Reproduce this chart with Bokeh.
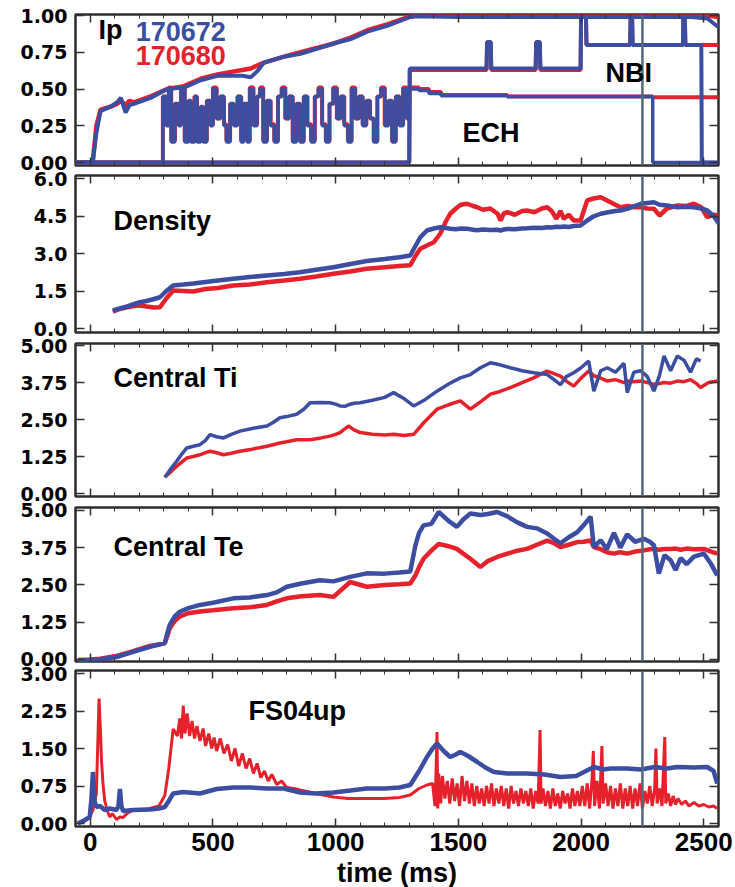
from bokeh.plotting import figure
from bokeh.layouts import column
from bokeh.models import (Range1d, LinearAxis, SingleIntervalTicker, FixedTicker,
                          Span, Label, PrintfTickFormatter)
from bokeh.embed import file_html
from bokeh.resources import INLINE

RED = "#e5222b"
BLUE = "#3b4ea1"

# ---------------- Panel 1: Ip, NBI, ECH ----------------
ip_t = [-60, 10, 25, 42, 83, 110, 125, 144, 160, 178, 246, 314, 382, 450, 518, 586, 620, 654,
        680, 708, 790, 857, 993, 1061, 1129, 1210, 1304, 1332, 1500, 1700, 1900, 2100, 2300,
        2450, 2515, 2560]
ip_blue = [0, 0, 0.20, 0.35, 0.38, 0.41, 0.44, 0.34, 0.39, 0.40, 0.44, 0.50, 0.51, 0.56, 0.59,
           0.59, 0.59, 0.58, 0.62, 0.68, 0.72, 0.74, 0.81, 0.84, 0.89, 0.93, 0.99, 0.995, 0.99,
           0.99, 0.99, 0.99, 0.99, 0.99, 0.98, 0.92]
ip_red = [0, 0, 0.25, 0.36, 0.38, 0.40, 0.42, 0.39, 0.42, 0.41, 0.45, 0.50, 0.52, 0.57, 0.60,
          0.62, 0.63, 0.64, 0.66, 0.68, 0.72, 0.75, 0.81, 0.85, 0.90, 0.94, 0.995, 1.0, 1.0,
          1.0, 1.0, 1.0, 1.0, 1.0, 1.0, 0.99]

nbi_t = [-60, 1300, 1302, 1615, 1617, 1632, 1634, 1815, 1817, 1832, 1834, 1998, 2000, 2020,
         2022, 2200, 2202, 2208, 2210, 2415, 2417, 2423, 2425, 2490, 2492, 2560]
nbi_blue = [0, 0, 0.64, 0.64, 0.82, 0.82, 0.64, 0.64, 0.82, 0.82, 0.64, 0.64, 0.99, 0.99, 0.80,
            0.80, 0.99, 0.99, 0.80, 0.80, 0.99, 0.99, 0.80, 0.80, 0.0, 0.0]
nbi_red = [0, 0, 0.63, 0.63, 0.82, 0.82, 0.63, 0.63, 0.82, 0.82, 0.63, 0.63, 0.99, 0.99, 0.80,
           0.80, 0.99, 0.99, 0.80, 0.80, 0.99, 0.99, 0.80, 0.80, 0.80, 0.80]

ech_t = [-60, 296, 310, 320, 330, 345, 360, 370, 385, 400, 410, 425, 435, 450, 460, 475, 490,
         500, 515, 530, 545, 555, 570, 585, 600, 615, 625, 640, 650, 665, 680, 692, 705, 720,
         735, 750, 765, 780, 795, 810, 825, 840, 855, 870, 885, 900, 915, 930, 945, 960, 975,
         990, 1005, 1020, 1035, 1050, 1065, 1080, 1095, 1110, 1125, 1140, 1155, 1170, 1185,
         1200, 1215, 1230, 1245, 1260, 1275, 1290, 1300, 1340, 1380, 1430, 1700, 2000, 2292,
         2560]
ech_blue = [0, 0.45, 0.25, 0.50, 0.14, 0.40, 0.25, 0.50, 0.14, 0.42, 0.14, 0.45, 0.14, 0.38,
            0.14, 0.42, 0.25, 0.50, 0.30, 0.45, 0.25, 0.14, 0.40, 0.25, 0.45, 0.14, 0.40, 0.14,
            0.50, 0.25, 0.45, 0.50, 0.14, 0.42, 0.25, 0.14, 0.45, 0.50, 0.30, 0.45, 0.14, 0.40,
            0.14, 0.45, 0.25, 0.14, 0.45, 0.50, 0.25, 0.14, 0.40, 0.50, 0.30, 0.45, 0.25, 0.14,
            0.50, 0.30, 0.45, 0.25, 0.42, 0.30, 0.14, 0.45, 0.50, 0.25, 0.42, 0.14, 0.45, 0.25,
            0.50, 0.30, 0.50, 0.49, 0.47, 0.455, 0.45, 0.45, 0.0, 0.0]
ech_red = [0, 0.45, 0.26, 0.51, 0.15, 0.40, 0.26, 0.51, 0.15, 0.42, 0.15, 0.45, 0.15, 0.38,
           0.15, 0.42, 0.26, 0.51, 0.30, 0.45, 0.26, 0.15, 0.40, 0.26, 0.45, 0.15, 0.40, 0.15,
           0.51, 0.26, 0.45, 0.51, 0.15, 0.42, 0.26, 0.15, 0.45, 0.51, 0.30, 0.45, 0.15, 0.40,
           0.15, 0.45, 0.26, 0.15, 0.45, 0.51, 0.26, 0.15, 0.40, 0.51, 0.30, 0.45, 0.26, 0.15,
           0.51, 0.30, 0.45, 0.26, 0.42, 0.30, 0.15, 0.45, 0.51, 0.26, 0.42, 0.15, 0.45, 0.26,
           0.51, 0.30, 0.51, 0.50, 0.48, 0.46, 0.45, 0.45, 0.445, 0.445]

# ---------------- Panel 2: Density ----------------
dens_t = [92, 120, 150, 180, 202, 230, 260, 284, 310, 338, 380, 420, 470, 520, 583, 650, 720,
          790, 855, 920, 991, 1060, 1127, 1200, 1260, 1304, 1325, 1345, 1372, 1400, 1426, 1450,
          1467, 1490, 1510, 1536, 1560, 1577, 1600, 1630, 1660, 1672, 1685, 1700, 1730, 1760,
          1780, 1810, 1840, 1862, 1880, 1900, 1916, 1930, 1950, 1970, 1998, 2025, 2050, 2080,
          2110, 2140, 2161, 2190, 2220, 2243, 2270, 2297, 2320, 2350, 2392, 2430, 2460, 2490,
          2514, 2540, 2562]
dens_blue = [0.72, 0.80, 0.88, 0.98, 1.05, 1.10, 1.18, 1.25, 1.50, 1.72, 1.76, 1.80, 1.86, 1.92,
             1.99, 2.06, 2.12, 2.18, 2.25, 2.35, 2.45, 2.58, 2.70, 2.78, 2.85, 2.92, 3.30, 3.65,
             3.92, 4.00, 4.05, 4.02, 3.99, 3.97, 4.00, 3.99, 3.95, 3.93, 3.96, 3.94, 3.95, 3.92,
             3.96, 3.98, 3.97, 4.00, 4.01, 4.03, 4.02, 4.05, 4.04, 4.07, 4.06, 4.08, 4.06, 4.10,
             4.12, 4.32, 4.48, 4.59, 4.65, 4.70, 4.72, 4.80, 4.90, 4.99, 5.02, 5.05, 4.95, 4.92,
             4.85, 4.87, 4.85, 4.80, 4.72, 4.50, 4.19]
dens_red = [0.67, 0.78, 0.85, 0.90, 0.92, 0.88, 0.84, 0.85, 1.20, 1.52, 1.50, 1.48, 1.58, 1.62,
            1.72, 1.76, 1.85, 1.92, 1.99, 2.08, 2.19, 2.28, 2.39, 2.45, 2.50, 2.53, 2.90, 3.19,
            3.32, 3.45, 3.79, 4.30, 4.59, 4.80, 4.95, 4.99, 4.90, 4.85, 4.75, 4.80, 4.59, 4.32,
            4.60, 4.65, 4.55, 4.70, 4.72, 4.65, 4.80, 4.85, 4.70, 4.39, 4.70, 4.39, 4.55, 4.32,
            4.32, 5.12, 5.20, 5.25, 5.10, 4.95, 4.85, 4.90, 4.85, 4.85, 4.80, 4.79, 4.52, 4.80,
            4.92, 4.90, 4.99, 4.85, 4.45, 4.55, 4.52]

# ---------------- Panel 3: Central Ti ----------------
ti_t = [304, 330, 352, 375, 393, 420, 447, 470, 488, 515, 543, 575, 610, 660, 720, 745, 773,
        800, 841, 870, 896, 940, 977, 1000, 1018, 1040, 1052, 1075, 1100, 1150, 1200, 1236,
        1280, 1318, 1360, 1413, 1460, 1508, 1549, 1590, 1631, 1670, 1712, 1760, 1807, 1840,
        1862, 1890, 1916, 1940, 1970, 2000, 2031, 2052, 2080, 2107, 2140, 2175, 2188, 2215,
        2243, 2270, 2297, 2320, 2338, 2365, 2392, 2420, 2446, 2470, 2487, 2520, 2555]
ti_blue = [0.55, 0.85, 1.09, 1.35, 1.54, 1.60, 1.65, 1.80, 1.99, 1.92, 1.88, 2.00, 2.11, 2.20,
           2.28, 2.40, 2.56, 2.60, 2.68, 2.85, 3.07, 3.08, 3.07, 3.02, 2.96, 2.95, 3.00, 3.05,
           3.07, 3.15, 3.25, 3.41, 3.20, 2.96, 3.15, 3.46, 3.70, 3.91, 4.02, 4.25, 4.42, 4.35,
           4.25, 4.15, 4.08, 4.05, 4.02, 3.85, 3.68, 3.95, 4.08, 4.25, 4.48, 3.46, 4.15, 4.25,
           4.10, 4.40, 3.41, 4.10, 4.15, 3.95, 3.46, 4.00, 4.65, 4.15, 4.65, 4.50, 4.10, 4.55,
           4.48]
ti_red = [0.55, 0.75, 0.92, 1.08, 1.20, 1.25, 1.31, 1.38, 1.43, 1.38, 1.31, 1.36, 1.43, 1.50,
          1.60, 1.65, 1.71, 1.75, 1.82, 1.82, 1.82, 1.88, 1.94, 2.00, 2.06, 2.20, 2.28, 2.15,
          2.06, 2.00, 1.98, 2.00, 1.96, 2.00, 2.40, 2.85, 3.00, 3.13, 2.85, 3.10, 3.36, 3.45,
          3.58, 3.75, 3.91, 4.05, 4.14, 4.05, 3.97, 3.80, 3.63, 3.90, 4.14, 3.98, 3.90, 3.80,
          3.85, 3.75, 3.80, 3.78, 3.80, 3.75, 3.69, 3.72, 3.75, 3.73, 3.80, 3.78, 3.85, 3.72,
          3.58, 3.75, 3.80]

# ---------------- Panel 4: Central Te ----------------
te_t = [-50, 0, 40, 107, 175, 243, 280, 304, 315, 324, 345, 365, 400, 447, 500, 583, 650, 720,
        760, 801, 860, 936, 991, 1059, 1127, 1200, 1260, 1304, 1325, 1340, 1358, 1390, 1420,
        1460, 1494, 1520, 1549, 1590, 1620, 1658, 1700, 1740, 1780, 1820, 1862, 1890, 1916,
        1950, 1984, 2010, 2039, 2052, 2080, 2105, 2134, 2160, 2188, 2220, 2256, 2280, 2297,
        2317, 2340, 2365, 2385, 2406, 2430, 2460, 2501, 2530, 2555]
te_blue = [-0.05, -0.02, 0.0, 0.08, 0.25, 0.42, 0.50, 0.55, 0.90, 1.16, 1.45, 1.60, 1.72, 1.83,
           1.90, 2.05, 2.08, 2.16, 2.25, 2.44, 2.55, 2.66, 2.62, 2.77, 2.89, 2.88, 2.92, 2.95,
           3.83, 4.25, 4.50, 4.55, 4.95, 4.65, 4.45, 4.70, 4.90, 4.85, 4.88, 4.95, 4.80, 4.60,
           4.45, 4.40, 4.23, 4.05, 3.90, 4.10, 4.27, 4.50, 4.79, 3.77, 4.00, 3.70, 4.25, 3.75,
           4.20, 3.95, 4.05, 3.95, 3.83, 2.88, 3.50, 3.33, 3.00, 3.40, 3.20, 3.45, 3.55, 3.20,
           2.82]
te_red = [-0.02, 0.0, 0.02, 0.12, 0.28, 0.45, 0.50, 0.55, 0.80, 1.05, 1.30, 1.44, 1.55, 1.61,
          1.65, 1.72, 1.75, 1.83, 1.95, 2.05, 2.12, 2.16, 2.10, 2.60, 2.44, 2.50, 2.52, 2.55,
          2.82, 3.10, 3.38, 3.65, 3.88, 3.80, 3.71, 3.55, 3.38, 3.10, 3.30, 3.44, 3.55, 3.65,
          3.71, 3.85, 3.99, 3.90, 3.77, 3.85, 3.94, 3.95, 3.99, 3.77, 3.70, 3.60, 3.55, 3.60,
          3.55, 3.62, 3.66, 3.70, 3.71, 3.68, 3.71, 3.71, 3.72, 3.68, 3.72, 3.70, 3.71, 3.62,
          3.55]

# ---------------- Panel 5: FS04up ----------------
fs_blue_t = [-50, -22, -2, 5, 11, 18, 25, 40, 59, 80, 107, 115, 121, 127, 134, 175, 243, 280,
             304, 320, 338, 379, 447, 515, 583, 651, 720, 788, 855, 920, 991, 1060, 1127, 1200,
             1260, 1304, 1340, 1372, 1395, 1413, 1440, 1467, 1490, 1508, 1540, 1577, 1610,
             1645, 1700, 1780, 1850, 1916, 1980, 2052, 2090, 2120, 2188, 2243, 2300, 2350,
             2392, 2460, 2514, 2540, 2555]
fs_blue = [0.0, 0.07, 0.13, 0.50, 1.03, 0.45, 0.33, 0.35, 0.27, 0.30, 0.27, 0.35, 0.69, 0.35,
           0.25, 0.27, 0.28, 0.30, 0.33, 0.45, 0.60, 0.63, 0.60, 0.69, 0.72, 0.72, 0.70, 0.70,
           0.62, 0.60, 0.62, 0.66, 0.70, 0.70, 0.72, 0.77, 1.05, 1.33, 1.50, 1.60, 1.45, 1.33,
           1.38, 1.43, 1.35, 1.23, 1.12, 1.03, 1.00, 1.00, 0.98, 0.93, 0.95, 1.13, 1.08, 1.10,
           1.10, 1.08, 1.13, 1.10, 1.13, 1.12, 1.13, 1.05, 0.80]
fs_red_t = [-50, -22, -2, 11, 25, 32, 36, 42, 46, 52, 59, 70, 80, 90, 107, 121, 134, 150, 175,
            210, 243, 280, 304, 320, 338, 355, 365, 372, 379, 386, 395, 405, 415, 425, 435, 447,
            460, 470, 483, 495, 505, 515, 530, 545, 560, 575, 590, 605, 620, 635, 650, 665,
            680, 695, 710, 725, 740, 760, 780, 800, 830, 855, 900, 950, 991, 1050, 1127, 1200,
            1260, 1304, 1340, 1372, 1395, 1405, 1410, 1413, 1416, 1420, 1428, 1435, 1445, 1455,
            1465, 1475, 1485, 1495, 1505, 1515, 1525, 1535, 1545, 1555, 1565, 1575, 1585, 1595,
            1605, 1615, 1625, 1635, 1645, 1655, 1665, 1675, 1685, 1695, 1705, 1715, 1725, 1735,
            1745, 1755, 1765, 1775, 1785, 1795, 1805, 1815, 1825, 1833, 1837, 1845, 1855, 1865,
            1875, 1885, 1895, 1905, 1915, 1925, 1935, 1945, 1955, 1965, 1975, 1985, 1995, 2005,
            2015, 2025, 2035, 2045, 2050, 2055, 2065, 2075, 2085, 2090, 2100, 2110, 2120, 2130,
            2140, 2150, 2160, 2170, 2180, 2190, 2200, 2210, 2220, 2230, 2240, 2250, 2260, 2270,
            2280, 2290, 2300, 2305, 2310, 2320, 2330, 2341, 2345, 2355, 2365, 2375, 2385, 2395,
            2410, 2425, 2440, 2460, 2480, 2500, 2520, 2540, 2555]
fs_red = [0.0, 0.05, 0.13, 0.27, 0.60, 1.80, 2.50, 1.80, 1.26, 0.80, 0.46, 0.25, 0.13, 0.20,
          0.08, 0.13, 0.12, 0.20, 0.27, 0.28, 0.30, 0.35, 0.56, 1.10, 1.89, 1.75, 2.10, 1.70,
          2.36, 1.80, 2.20, 1.75, 2.05, 1.70, 1.95, 1.65, 1.90, 1.55, 1.80, 1.50, 1.72, 1.45,
          1.70, 1.40, 1.58, 1.25, 1.50, 1.15, 1.40, 1.10, 1.30, 1.00, 1.20, 0.92, 1.05, 0.85,
          0.98, 0.78, 0.85, 0.72, 0.70, 0.67, 0.62, 0.57, 0.53, 0.50, 0.50, 0.50, 0.52, 0.57,
          0.70, 0.77, 0.80, 0.35, 1.20, 1.83, 0.30, 1.00, 0.40, 0.95, 0.50, 0.85, 0.40, 0.90,
          0.45, 0.80, 0.35, 0.95, 0.45, 0.85, 0.40, 0.80, 0.35, 0.75, 0.40, 0.70, 0.35, 0.75,
          0.40, 0.80, 0.35, 0.70, 0.40, 0.75, 0.35, 0.70, 0.30, 0.75, 0.40, 0.65, 0.35, 0.70,
          0.40, 0.65, 0.35, 0.70, 0.30, 0.65, 0.40, 1.87, 0.40, 0.70, 0.35, 0.65, 0.30, 0.70,
          0.35, 0.60, 0.30, 0.65, 0.40, 0.60, 0.30, 0.70, 0.35, 0.65, 0.35, 0.75, 0.35, 0.80,
          0.30, 0.90, 1.45, 0.35, 0.85, 0.30, 1.55, 0.40, 0.80, 0.35, 0.75, 0.30, 0.70, 0.35,
          0.80, 0.30, 0.70, 0.35, 0.75, 0.30, 0.70, 0.35, 0.80, 0.30, 0.65, 0.40, 0.75, 0.35,
          0.70, 1.50, 0.40, 0.70, 0.35, 1.73, 0.40, 0.60, 0.35, 0.55, 0.38, 0.50, 0.38, 0.45,
          0.35, 0.42, 0.35, 0.38, 0.33, 0.35, 0.30]

x_ticks_interval = 500
marker_time = 2250

X_RANGE = Range1d(-60, 2560)
TICK_FONT = "DejaVu Sans"
LABEL_FONT = "Liberation Sans"
OVERLAP = 24


def hide_labels(axis):
    axis.major_label_text_font_size = "0px"
    axis.major_label_text_color = None
    axis.major_label_standoff = 0


def make_panel(height, top, bottom, y0, y1, yticks, fmt, first=False, last=False):
    p = figure(width=735, height=height, x_range=X_RANGE, y_range=Range1d(y0, y1),
               output_backend="svg", toolbar_location=None,
               min_border_left=75, min_border_right=17,
               min_border_top=top, min_border_bottom=bottom,
               margin=(0 if first else -OVERLAP, 0, 0, 0))
    p.xgrid.visible = False
    p.ygrid.visible = False
    p.outline_line_color = "#2e2e2e"
    p.outline_line_width = 2.5
    p.background_fill_color = "white"
    p.border_fill_alpha = 0

    # bottom x axis
    xa = p.xaxis[0]
    xa.ticker = SingleIntervalTicker(interval=x_ticks_interval, num_minor_ticks=5)
    xa.major_tick_in = 8
    xa.major_tick_out = 0
    xa.minor_tick_in = 4
    xa.minor_tick_out = 0
    xa.axis_line_color = None
    xa.major_tick_line_color = "#333333"
    xa.minor_tick_line_color = "#333333"
    xa.major_tick_line_width = 1.5
    if last:
        xa.major_label_text_font = LABEL_FONT
        xa.major_label_text_font_style = "bold"
        xa.major_label_text_font_size = "26px"
        xa.major_label_text_color = "black"
        xa.major_label_standoff = 6
        xa.axis_label = "time (ms)"
        xa.axis_label_text_font = LABEL_FONT
        xa.axis_label_text_font_style = "bold"
        xa.axis_label_text_font_size = "27px"
        xa.axis_label_text_color = "black"
        xa.axis_label_standoff = 4
    else:
        hide_labels(xa)

    # top mirrored x axis
    ta = LinearAxis(ticker=SingleIntervalTicker(interval=x_ticks_interval, num_minor_ticks=5),
                    major_tick_in=8, major_tick_out=0, minor_tick_in=4, minor_tick_out=0,
                    axis_line_color=None, major_tick_line_color="#333333",
                    minor_tick_line_color="#333333", major_tick_line_width=1.5)
    hide_labels(ta)
    p.add_layout(ta, "above")

    # left y axis
    ya = p.yaxis[0]
    ya.ticker = FixedTicker(ticks=yticks)
    ya.formatter = PrintfTickFormatter(format=fmt)
    ya.major_tick_in = 9
    ya.major_tick_out = 0
    ya.minor_tick_in = 0
    ya.minor_tick_out = 0
    ya.axis_line_color = None
    ya.major_tick_line_color = "#333333"
    ya.major_tick_line_width = 1.5
    ya.major_label_text_font = TICK_FONT
    ya.major_label_text_font_style = "bold"
    ya.major_label_text_font_size = "19px"
    ya.major_label_text_color = "black"
    ya.major_label_standoff = 8

    # right mirrored y axis
    ra = LinearAxis(ticker=FixedTicker(ticks=yticks), major_tick_in=9, major_tick_out=0,
                    minor_tick_in=0, minor_tick_out=0, axis_line_color=None,
                    major_tick_line_color="#333333", major_tick_line_width=1.5)
    hide_labels(ra)
    p.add_layout(ra, "right")

    return p


def add_marker(p):
    p.add_layout(Span(location=marker_time, dimension="height", line_color="#55687a",
                      line_width=2.5))


def add_text(p, x, y, text, color="black"):
    p.add_layout(Label(x=x, y=y, text=text, text_font=LABEL_FONT, text_font_style="bold",
                       text_font_size="27px", text_color=color, text_baseline="middle",
                       text_align="left"))


E = OVERLAP // 2

# Panel 1: canvas 0..170(+E)
p1 = make_panel(170 + E, 14, 5 + E, -0.02, 1.007, [0, 0.25, 0.5, 0.75, 1.0], "%.2f",
                first=True)
p1.step(ech_t, ech_red, mode="after", line_color=RED, line_width=4)
p1.line(nbi_t, nbi_red, line_color=RED, line_width=4)
p1.line(ip_t, ip_red, line_color=RED, line_width=4.5)
p1.step(ech_t, ech_blue, mode="after", line_color=BLUE, line_width=3.5)
p1.line(nbi_t, nbi_blue, line_color=BLUE, line_width=4)
p1.line(ip_t, ip_blue, line_color=BLUE, line_width=4)
add_marker(p1)
add_text(p1, 34, 0.90, "Ip")
add_text(p1, 185, 0.89, "170672", BLUE)
add_text(p1, 185, 0.73, "170680", RED)
add_text(p1, 2100, 0.61, "NBI")
add_text(p1, 1517, 0.20, "ECH")

# Panel 2
p2 = make_panel(167 + 2 * E, 5 + E, 5 + E, -0.16, 6.12, [0, 1.5, 3.0, 4.5, 6.0], "%.1f")
p2.line(dens_t, dens_red, line_color=RED, line_width=4.5)
p2.line(dens_t, dens_blue, line_color=BLUE, line_width=4.5)
add_marker(p2)
add_text(p2, 95, 4.32, "Density")

# Panel 3
p3 = make_panel(164 + 2 * E, 6 + E, 5 + E, -0.10, 5.07, [0, 1.25, 2.5, 3.75, 5.0], "%.2f")
p3.line(ti_t, ti_red, line_color=RED, line_width=3.5)
p3.line(ti_t[:len(ti_blue)], ti_blue, line_color=BLUE, line_width=3.5)
add_marker(p3)
add_text(p3, 95, 3.89, "Central Ti")

# Panel 4
p4 = make_panel(165 + 2 * E, 6 + E, 5 + E, -0.07, 5.10, [0, 1.25, 2.5, 3.75, 5.0], "%.2f")
p4.line(te_t, te_red, line_color=RED, line_width=4.5)
p4.line(te_t, te_blue, line_color=BLUE, line_width=4.5)
add_marker(p4)
add_text(p4, 95, 3.76, "Central Te")

# Panel 5
p5 = make_panel(225 + E, 4 + E, 65, -0.06, 3.06, [0, 0.75, 1.5, 2.25, 3.0], "%.2f", last=True)
p5.line(fs_red_t, fs_red, line_color=RED, line_width=3)
p5.line(fs_blue_t, fs_blue, line_color=BLUE, line_width=4.5)
add_marker(p5)
add_text(p5, 645, 2.26, "FS04up")

layout = column(p1, p2, p3, p4, p5, spacing=0)

with open("out.html", "w") as f:
    f.write(file_html(layout, INLINE))
